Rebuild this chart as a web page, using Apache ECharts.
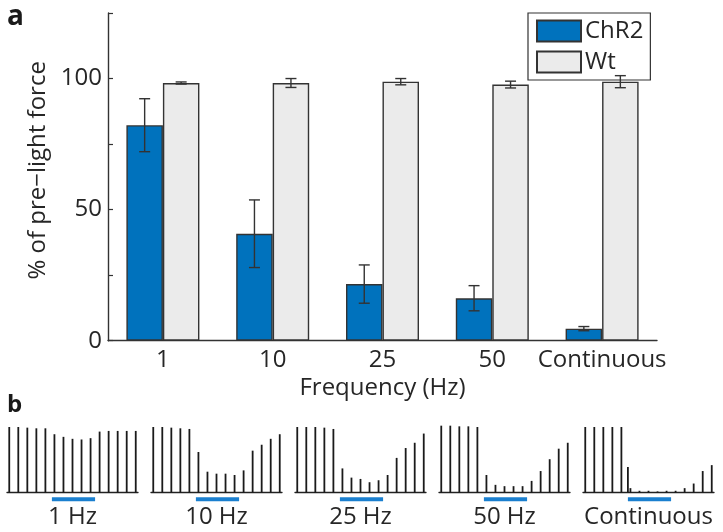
<!DOCTYPE html>
<html>
<head>
<meta charset="utf-8">
<script src="https://cdn.jsdelivr.net/npm/echarts@6/dist/echarts.min.js"></script>
<style>html,body{margin:0;padding:0;background:#fff}#c{width:723px;height:532px}</style>
</head>
<body>
<div id="c"></div>
<script>
// ---------- Panel a data ----------
const categories = ['1', '10', '25', '50', 'Continuous'];
const chr2Mean = [82.2, 40.8, 21.6, 16.2, 4.6];
const chr2Err  = [10.1, 12.9, 7.3, 4.8, 0.8];
const wtMean   = [98.3, 98.3, 98.8, 97.7, 98.8];
const wtErr    = [0.4, 1.7, 1.2, 1.3, 2.3];
const yTicks   = [0, 50, 100];

// ---------- Panel b data (relative twitch force, 15 twitches per trace) ----------
const traceLabels = ['1 Hz', '10 Hz', '25 Hz', '50 Hz', 'Continuous'];
const trace1Hz   = [1.00, 1.00, 0.99, 0.98, 0.98, 0.89, 0.85, 0.82, 0.81, 0.83, 0.93, 0.94, 0.94, 0.94, 0.94];
const trace10Hz  = [1.00, 1.00, 0.99, 0.98, 0.97, 0.62, 0.32, 0.29, 0.29, 0.27, 0.34, 0.64, 0.73, 0.82, 0.89];
const trace25Hz  = [1.00, 1.00, 1.00, 0.99, 0.97, 0.37, 0.23, 0.21, 0.16, 0.19, 0.27, 0.53, 0.68, 0.76, 0.90];
const trace50Hz  = [1.02, 1.02, 1.01, 1.01, 1.00, 0.27, 0.12, 0.10, 0.10, 0.10, 0.18, 0.33, 0.51, 0.67, 0.76];
const traceCont  = [1.00, 1.00, 1.00, 1.00, 1.00, 0.07, 0.03, 0.03, 0.02, 0.03, 0.03, 0.07, 0.14, 0.33, 0.42];
const onsetTransient = [0, 0, 0, 0, 0.39]; // light-onset transient (continuous only)
const lightWindow = [4.72, 9.5];            // in twitch-index units

const traces = [trace1Hz, trace10Hz, trace25Hz, trace50Hz, traceCont];

const FONT = "'Open Sans', 'Noto Sans', sans-serif";
const INK = '#262626';
const BLUE = '#0072bd';
const LIGHT_BLUE = '#1a7fcf';
const GREY = '#ebebeb';
const BAR_W = 36.5;

const chart = echarts.init(document.getElementById('c'), null, {renderer: 'canvas'});

function errorSeries(name, means, errs, offset) {
  return {
    type: 'custom',
    name: name + '_err',
    xAxisIndex: 0, yAxisIndex: 0,
    z: 5, silent: true,
    data: means.map((m, i) => [i, m, errs[i]]),
    encode: {x: 0, y: 1},
    renderItem: function (params, api) {
      const i = api.value(0), m = api.value(1), e = api.value(2);
      const top = api.coord([i, m + e]);
      const bot = api.coord([i, m - e]);
      const x = top[0] + offset;
      const cap = 5.5;
      const st = {stroke: '#333', lineWidth: 1.4};
      return {
        type: 'group',
        children: [
          {type: 'line', shape: {x1: x, y1: top[1], x2: x, y2: bot[1]}, style: st},
          {type: 'line', shape: {x1: x - cap, y1: top[1], x2: x + cap, y2: top[1]}, style: st},
          {type: 'line', shape: {x1: x - cap, y1: bot[1], x2: x + cap, y2: bot[1]}, style: st}
        ]
      };
    }
  };
}

const grids = [{left: 108, right: 66, top: 13, bottom: 191.3}];
const xAxes = [{
  type: 'category', gridIndex: 0, data: categories,
  axisLine: {show: true, lineStyle: {color: '#333', width: 1.4}},
  axisTick: {show: false},
  axisLabel: {color: INK, fontSize: 24, fontFamily: FONT, margin: 7, interval: 0, hideOverlap: false},
  name: 'Frequency (Hz)', nameLocation: 'middle', nameGap: 33,
  nameTextStyle: {color: INK, fontSize: 24, fontFamily: FONT}
}];
const yAxes = [{
  type: 'value', gridIndex: 0, min: 0, max: 125, interval: 25,
  axisLine: {show: true, lineStyle: {color: '#333', width: 1.4}},
  axisTick: {show: true, inside: true, length: 5, lineStyle: {color: '#333', width: 1.2}},
  splitLine: {show: false},
  axisLabel: {color: INK, fontSize: 24, fontFamily: FONT, margin: 6,
    formatter: v => yTicks.indexOf(v) >= 0 ? String(v) : ''},
  name: '% of pre\u2212light force', nameLocation: 'middle', nameGap: 52,
  nameTextStyle: {color: INK, fontSize: 24, fontFamily: FONT, padding: [0, 0, 0, 13]}
}];

const series = [
  {type: 'bar', name: 'ChR2', data: chr2Mean, barWidth: BAR_W, barGap: '0%',
   xAxisIndex: 0, yAxisIndex: 0,
   itemStyle: {color: BLUE, borderColor: '#333', borderWidth: 1.4}},
  {type: 'bar', name: 'Wt', data: wtMean, barWidth: BAR_W, barGap: '0%',
   xAxisIndex: 0, yAxisIndex: 0,
   itemStyle: {color: GREY, borderColor: '#333', borderWidth: 1.4}},
  errorSeries('ChR2', chr2Mean, chr2Err, -BAR_W / 2),
  errorSeries('Wt', wtMean, wtErr, BAR_W / 2)
];

const traceLefts = [7, 151, 295, 439, 583];
const titles = [];
traces.forEach((tr, k) => {
  const gi = k + 1;
  grids.push({left: traceLefts[k], width: 131, top: 423.7, height: 78.9});
  xAxes.push({
    type: 'value', gridIndex: gi, min: -0.25, max: 14.25,
    axisLine: {show: true, onZero: true, lineStyle: {color: '#222', width: 1.3}},
    axisTick: {show: false}, axisLabel: {show: false}, splitLine: {show: false}
  });
  yAxes.push({type: 'value', gridIndex: gi, min: -0.15, max: 1.05, show: false,
    splitLine: {show: false}});
  const spikes = tr.map((h, i) => [i, h]);
  if (onsetTransient[k] > 0) spikes.push([lightWindow[0], onsetTransient[k]]);
  series.push({
    type: 'bar', xAxisIndex: gi, yAxisIndex: gi, data: spikes, barWidth: 1.8,
    itemStyle: {color: '#1a1a1a'}, silent: true
  });
  series.push({
    type: 'line', xAxisIndex: gi, yAxisIndex: gi, symbol: 'none', silent: true,
    data: [[lightWindow[0], -0.1], [lightWindow[1], -0.1]],
    lineStyle: {color: LIGHT_BLUE, width: 4, cap: 'butt'}
  });
  titles.push({
    text: traceLabels[k], left: traceLefts[k] + 65.5, top: 505, textAlign: 'center', padding: 0,
    textStyle: {color: INK, fontSize: 24, fontWeight: 'normal', fontFamily: FONT}
  });
});

chart.setOption({
  animation: false,
  backgroundColor: '#fff',
  title: titles,
  legend: {
    data: ['ChR2', 'Wt'], orient: 'vertical', left: 528, top: 13,
    padding: [6, 7, 6, 8], itemWidth: 44, itemHeight: 21, itemGap: 7,
    backgroundColor: '#fff', borderColor: '#333', borderWidth: 1.2, borderRadius: 0,
    icon: 'rect',
    textStyle: {color: INK, fontSize: 24, fontFamily: FONT, padding: [0, 0, 0, -1]}
  },
  grid: grids,
  xAxis: xAxes,
  yAxis: yAxes,
  series: series,
  graphic: [
    {type: 'text', left: 7, top: 3, style: {text: 'a', font: "bold 28px " + FONT, fill: '#1a1a1a'}},
    {type: 'text', left: 7, top: 393, style: {text: 'b', font: "bold 24px " + FONT, fill: '#1a1a1a'}}
  ]
});
</script>
</body>
</html>
